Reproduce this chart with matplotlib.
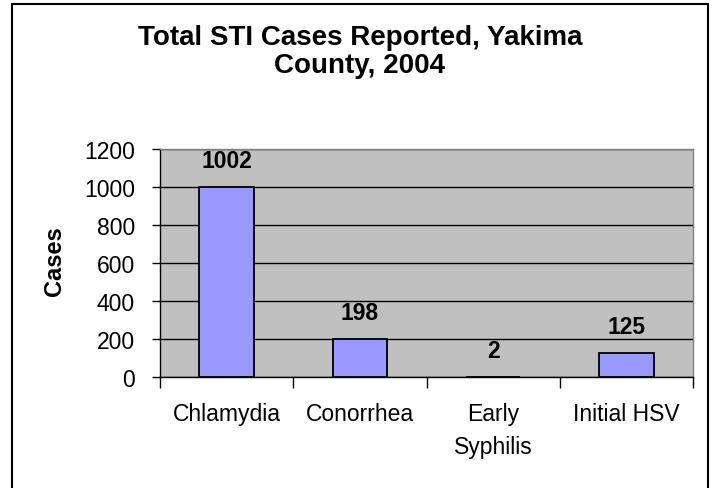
import matplotlib.pyplot as plt
from matplotlib.patches import Rectangle

# data
categories = ['Chlamydia', 'Conorrhea', 'Early\nSyphilis', 'Initial HSV']
cases = [1002, 198, 2, 125]
yticks = [0, 200, 400, 600, 800, 1000, 1200]

plt.rcParams['font.family'] = ['Liberation Sans', 'DejaVu Sans']

W, H = 712, 489
fig = plt.figure(figsize=(W / 100, H / 100), dpi=100)
ax = fig.add_axes([160 / W, 1 - 378 / H, 533 / W, 228 / H])

x = list(range(len(categories)))
ax.bar(x, cases, width=0.41, color='#9999FF', edgecolor='black', linewidth=1.3, zorder=2)

# data labels
for xi, v in zip(x, cases):
    ax.annotate(str(v), (xi, v), xytext=(0, 19), textcoords='offset points',
                ha='center', va='center', fontsize=16.5, fontweight='bold')

ax.set_facecolor('#C0C0C0')
ax.set_xlim(-0.5, len(categories) - 0.5)
ax.set_ylim(0, 1200)
ax.set_yticks(yticks)
ax.set_yticklabels([str(t) for t in yticks], fontsize=16.5)
ax.yaxis.grid(True, color='black', linewidth=1.0, zorder=1)
ax.set_axisbelow(True)

# category boundary ticks, labels at centres
ax.set_xticks([i - 0.5 for i in range(len(categories) + 1)])
ax.set_xticklabels([])
ax.set_xticks(x, minor=True)
ax.set_xticklabels(categories, minor=True, fontsize=16.5, linespacing=1.55)
ax.tick_params(axis='x', which='major', direction='out', length=8, width=1, color='black')
ax.tick_params(axis='x', which='minor', length=0, pad=18)
ax.tick_params(axis='y', direction='out', length=6, width=1, pad=12)

for side in ['top', 'right']:
    ax.spines[side].set_color('#808080')
    ax.spines[side].set_linewidth(1.0)
for side in ['left', 'bottom']:
    ax.spines[side].set_color('black')
    ax.spines[side].set_linewidth(1.0)

fig.text(360 / W, 1 - 52 / H, 'Total STI Cases Reported, Yakima\nCounty, 2004',
         ha='center', va='center', fontsize=20, fontweight='bold', linespacing=1.1)
fig.text(55 / W, 1 - 261 / H, 'Cases', rotation=90, ha='center', va='center',
         fontsize=17, fontweight='bold')

# outer chart border
fig.patches.append(Rectangle((12 / W, -0.1), 696 / W, 1.1 - 5 / H, transform=fig.transFigure,
                             fill=False, edgecolor='black', linewidth=1.5))

fig.savefig('out.png', dpi=100)
